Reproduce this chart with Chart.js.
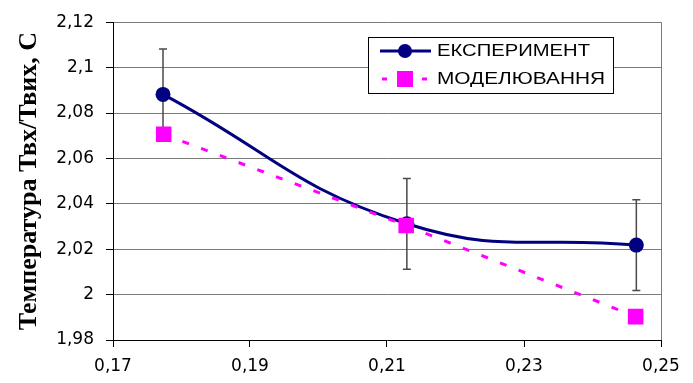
<!DOCTYPE html>
<html>
<head>
<meta charset="utf-8">
<script src="https://cdn.jsdelivr.net/npm/chart.js@4"></script>
<style>
  html,body{margin:0;padding:0;background:#fff;}
  #wrap{width:693px;height:383px;}
</style>
</head>
<body>
<div id="wrap"><canvas id="c" width="693" height="383"></canvas></div>
<script>
// data
const xExp = [0.1773, 0.2129, 0.2464];
const yExp = [2.0882, 2.0312, 2.0218];
const errExp = [0.02, 0.02, 0.02];
const xMod = [0.1774, 0.2128, 0.2463];
const yMod = [2.0706, 2.0304, 1.9903];
const xTicks = [0.17, 0.19, 0.21, 0.23, 0.25];
const yTicks = [1.98, 2.0, 2.02, 2.04, 2.06, 2.08, 2.1, 2.12];
const names = ["ЕКСПЕРИМЕНТ", "МОДЕЛЮВАННЯ"];
const yTitle = "Температура Твх/Твих, С";

const NAVY = "#000080", MAG = "#ff00ff", GRID = "#7a7a7a";
const fmt = (v)=> String(+v.toFixed(2)).replace(".", ",");

// vertical error bars, drawn under the markers
const errorBars = {
  id: "errorBars",
  beforeDatasetsDraw(chart){
    const {ctx, scales:{x, y}} = chart;
    ctx.save();
    ctx.strokeStyle = "#4a4a4a";
    ctx.lineWidth = 1.5;
    for (let i=0;i<xExp.length;i++){
      const px = x.getPixelForValue(xExp[i]);
      const top = y.getPixelForValue(yExp[i]+errExp[i]);
      const bot = y.getPixelForValue(yExp[i]-errExp[i]);
      ctx.beginPath();
      ctx.moveTo(px, top); ctx.lineTo(px, bot);
      ctx.moveTo(px-4, top); ctx.lineTo(px+4, top);
      ctx.moveTo(px-4, bot); ctx.lineTo(px+4, bot);
      ctx.stroke();
    }
    ctx.restore();
  }
};

// boxed legend like the original
const boxLegend = {
  id: "boxLegend",
  afterDatasetsDraw(chart){
    const ctx = chart.ctx;
    const bx = 368, by = 37, bw = 245, bh = 56;
    ctx.save();
    ctx.fillStyle = "#fff";
    ctx.fillRect(bx, by, bw, bh);
    ctx.strokeStyle = "#000";
    ctx.lineWidth = 1;
    ctx.strokeRect(bx+0.5, by+0.5, bw, bh);

    // row 1: experiment
    const r1 = by + 14, r2 = by + 42;
    ctx.strokeStyle = NAVY; ctx.lineWidth = 3;
    ctx.beginPath(); ctx.moveTo(bx+12, r1); ctx.lineTo(bx+63, r1); ctx.stroke();
    ctx.fillStyle = NAVY;
    ctx.beginPath(); ctx.arc(bx+37, r1, 7, 0, Math.PI*2); ctx.fill();

    // row 2: model
    ctx.strokeStyle = MAG; ctx.lineWidth = 3;
    ctx.beginPath(); ctx.moveTo(bx+14, r2); ctx.lineTo(bx+19, r2);
    ctx.moveTo(bx+54, r2); ctx.lineTo(bx+59, r2); ctx.stroke();
    ctx.fillStyle = MAG;
    ctx.fillRect(bx+29, r2-8, 16, 16);

    ctx.fillStyle = "#000";
    ctx.font = '16px "Liberation Sans", Arial, sans-serif';
    ctx.textBaseline = "middle";
    const targets = [153, 168];
    [r1, r2].forEach((ry, i)=>{
      const w = ctx.measureText(names[i]).width;
      ctx.save();
      ctx.translate(bx+69, ry+1);
      ctx.scale(targets[i]/w, 1);
      ctx.fillText(names[i], 0, 0);
      ctx.restore();
    });
    ctx.restore();
  }
};

new Chart(document.getElementById("c"), {
  type: "line",
  data: {
    datasets: [
      {
        label: names[0], order: 1,
        data: xExp.map((v,i)=>({x:v, y:yExp[i]})),
        borderColor: NAVY, backgroundColor: NAVY,
        borderWidth: 3, tension: 0.45,
        pointStyle: "circle", pointRadius: 7.5, pointBorderWidth: 0,
        pointBackgroundColor: NAVY
      },
      {
        label: names[1], order: 0,
        data: xMod.map((v,i)=>({x:v, y:yMod[i]})),
        borderColor: MAG, backgroundColor: MAG,
        borderWidth: 3, borderDash: [7, 13], tension: 0,
        pointStyle: "rect", pointRadius: 11, pointBorderWidth: 0,
        pointBackgroundColor: MAG
      }
    ]
  },
  options: {
    responsive: false,
    animation: false,
    layout: {padding: {top: 20, right: 32, left: 0, bottom: 0}},
    plugins: {legend: {display: false}, tooltip: {enabled: false}},
    scales: {
      x: {
        type: "linear", min: 0.17, max: 0.25,
        afterBuildTicks: (s)=>{ s.ticks = xTicks.map(v=>({value:v})); },
        afterFit: (s)=>{ s.height = 43; },
        ticks: {
          callback: (v)=>fmt(v), color: "#000", padding: 9, maxRotation: 0,
          font: {family: '"DejaVu Sans", sans-serif', size: 17}
        },
        grid: {
          color: (c)=> c.tick && Math.abs(c.tick.value-0.25) < 1e-6 ? GRID : "rgba(0,0,0,0)",
          tickColor: "#000", tickLength: 7, lineWidth: 1
        },
        border: {color: "#000", width: 1}
      },
      y: {
        type: "linear", min: 1.98, max: 2.12,
        afterBuildTicks: (s)=>{ s.ticks = yTicks.map(v=>({value:v})); },
        afterFit: (s)=>{ s.width = 113; },
        ticks: {
          callback: (v)=>fmt(v), color: "#000", padding: 12,
          font: {family: '"DejaVu Sans", sans-serif', size: 17}
        },
        grid: {
          color: (c)=> c.tick && Math.abs(c.tick.value-1.98) < 1e-6 ? "rgba(0,0,0,0)" : GRID,
          tickColor: "#000", tickLength: 7, lineWidth: 1
        },
        border: {color: "#000", width: 1},
        title: {
          display: true, text: yTitle, color: "#000",
          font: {family: '"Liberation Serif", "Times New Roman", serif', size: 26, weight: "bold"},
          padding: {top: 14, bottom: 0}
        }
      }
    }
  },
  plugins: [errorBars, boxLegend]
});
</script>
</body>
</html>
